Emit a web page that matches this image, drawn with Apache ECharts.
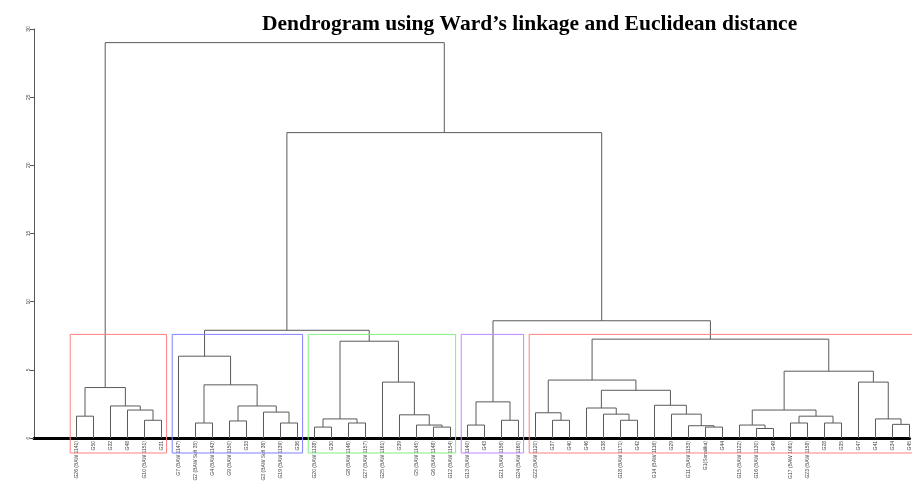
<!DOCTYPE html>
<html>
<head>
<meta charset="utf-8">
<script src="https://cdn.jsdelivr.net/npm/echarts@6/dist/echarts.min.js"></script>
<style>
  html, body { margin: 0; padding: 0; background: #fff; }
  #chart { width: 912px; height: 485px; }
</style>
</head>
<body>
<div id="chart"></div>
<script>
// leaf labels in dendrogram order
var leaves = [
  'G26 (BAW 1141)', 'G50', 'G32', 'G48', 'G10 (BAW 1151)', 'G31',
  'G7 (BAW 1147)', 'G2 (BAW Sufi 35)', 'G4 (BAW 1143)', 'G9 (BAW 1150)', 'G33',
  'G3 (BAW Sufi 36)', 'G19 (BAW 1139)', 'G36',
  'G20 (BAW 1138)', 'G30', 'G8 (BAW 1146)', 'G27 (BAW 1157)', 'G25 (BAW 1161)',
  'G39', 'G5 (BAW 1145)', 'G6 (BAW 1148)', 'G12 (BAW 1154)',
  'G13 (BAW 1140)', 'G43', 'G21 (BAW 1156)', 'G24 (BAW 1160)',
  'G22 (BAW 1120)', 'G37', 'G40', 'G46', 'G38', 'G18 (BAW 1171)', 'G42',
  'G14 (BAW 1116)', 'G29', 'G11 (BAW 1153)', 'G1(Sonalika)', 'G44',
  'G15 (BAW 1122)', 'G16 (BAW 1130)', 'G49', 'G17 (BAW 1061)', 'G23 (BAW 1158)',
  'G28', 'G35', 'G47', 'G41', 'G34', 'G45'
];

// hclust style merges: negative = leaf (1-based position), positive = earlier merge
var mergeA = [-1, -5, -4, -3, 1, -8, -10, -13, -12, 7, 6, -7, -15, -17, 13, -22, -21, -20, -19, 15,
              12, -24, -26, 22, -29, -28, -33, -32, -31, -38, -37, -36, -35, 29, 26, -41, -40, -43, -45, 38,
              37, -49, -48, -47, 41, 35, 24, 21, 5];
var mergeB = [-2, -6, 2, 3, 4, -9, -11, -14, 8, 9, 10, 11, -16, -18, 14, -23, 16, 17, 18, 19,
              20, -25, -27, 23, -30, 25, -34, 27, 28, -39, 30, 31, 32, 33, 34, -42, 36, -44, -46, 39,
              40, -50, 42, 43, 44, 45, 46, 47, 48];
var mergeHeight = [1.6, 1.3, 2.05, 2.35, 3.7, 1.1, 1.25, 1.1, 1.9, 2.35, 3.9, 6.0, 0.8, 1.1, 1.4, 0.8, 0.95, 1.7, 4.1, 7.1,
                   7.9, 0.95, 1.3, 2.65, 1.3, 1.85, 1.3, 1.75, 2.2, 0.8, 0.9, 1.75, 2.4, 3.5, 4.25, 0.7, 0.95, 1.1, 1.1, 1.6,
                   2.05, 1.0, 1.4, 4.1, 4.9, 7.25, 8.6, 22.4, 29.0];

// cluster boxes (k = 5)
var clusterFirst = [0, 6, 14, 23, 27];
var clusterLast = [5, 13, 22, 26, 49];
var clusterColors = ['#ff8080', '#8080ff', '#80f080', '#c088ff', '#ff8080'];
var cutHeight = 7.6;

var yTicks = [0, 5, 10, 15, 20, 25, 30];

// layout: merge x = mean of its two children
var mx = [], links = [];
function nodeX(c) { return c < 0 ? -c - 1 : mx[c - 1]; }
function nodeH(c) { return c < 0 ? 0 : mergeHeight[c - 1]; }
for (var i = 0; i < mergeA.length; i++) {
  var xa = nodeX(mergeA[i]), xb = nodeX(mergeB[i]);
  mx.push((xa + xb) / 2);
  links.push([xa, xb, nodeH(mergeA[i]), nodeH(mergeB[i]), mergeHeight[i]]);
}
var boxes = clusterFirst.map(function (f, k) {
  return [f - 0.37, clusterLast[k] + 0.3, -1.1, cutHeight, k];
});

var chart = echarts.init(document.getElementById('chart'));
chart.setOption({
  animation: false,
  title: {
    text: 'Dendrogram using Ward\u2019s linkage and Euclidean distance',
    left: 257, top: 8,
    textStyle: { fontFamily: 'Liberation Serif', fontWeight: 'bold', fontSize: 21.5, color: '#000' }
  },
  grid: { left: 34, right: 0, top: 29, bottom: 47 },
  xAxis: {
    type: 'value', min: -2.5, max: 49, interval: 0.5,
    axisLine: { onZero: false, lineStyle: { color: '#000', width: 3 } },
    axisTick: { show: false },
    splitLine: { show: false },
    axisLabel: {
      rotate: 90, fontSize: 5, color: '#444', margin: 3, fontFamily: 'Liberation Sans',
      formatter: function (v) { return (Number.isInteger(v) && v >= 0) ? leaves[v] : ''; }
    }
  },
  yAxis: {
    type: 'value', min: yTicks[0], max: yTicks[yTicks.length - 1], interval: 5,
    axisLine: { show: true, onZero: false, lineStyle: { color: '#555', width: 1 } },
    axisTick: { show: true, length: 4, lineStyle: { color: '#555' } },
    splitLine: { show: false },
    axisLabel: { rotate: 90, fontSize: 5, color: '#444', margin: 3, fontFamily: 'Liberation Sans' }
  },
  series: [
    {
      type: 'custom',
      data: links,
      encode: { x: [0, 1], y: [2, 3, 4] },
      clip: false,
      renderItem: function (params, api) {
        var p1 = api.coord([api.value(0), api.value(2)]);
        var p2 = api.coord([api.value(0), api.value(4)]);
        var p3 = api.coord([api.value(1), api.value(4)]);
        var p4 = api.coord([api.value(1), api.value(3)]);
        return {
          type: 'polyline',
          shape: { points: [p1, p2, p3, p4] },
          style: { stroke: '#5a5a5a', lineWidth: 1, fill: null }
        };
      },
      z: 3
    },
    {
      type: 'custom',
      data: boxes,
      encode: { x: [0, 1], y: [2, 3] },
      clip: false,
      renderItem: function (params, api) {
        var a = api.coord([api.value(0), api.value(3)]);
        var b = api.coord([api.value(1), api.value(2)]);
        return {
          type: 'rect',
          shape: { x: a[0], y: a[1], width: b[0] - a[0], height: b[1] - a[1] },
          style: { stroke: clusterColors[api.value(4)], lineWidth: 1, fill: null }
        };
      },
      z: 4
    }
  ]
});
</script>
</body>
</html>
